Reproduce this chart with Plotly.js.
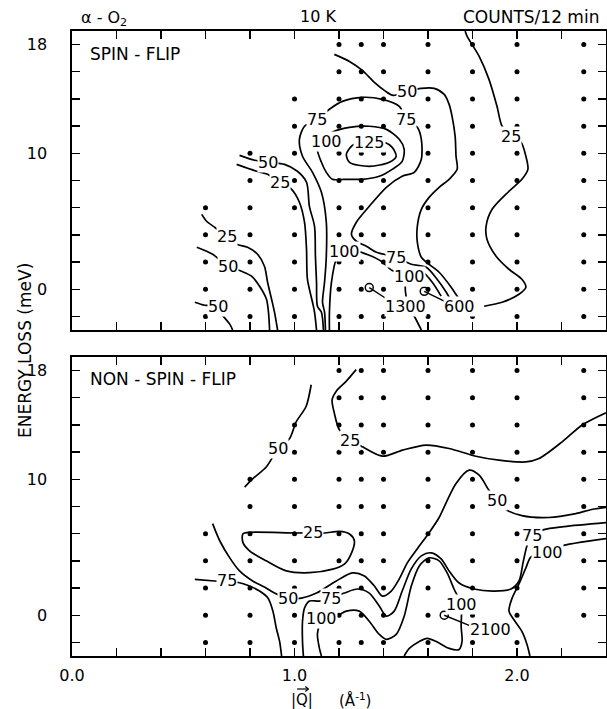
<!DOCTYPE html>
<html><head><meta charset="utf-8">
<script src="https://cdn.plot.ly/plotly-3.0.1.min.js"></script>
<style>html,body{margin:0;padding:0;background:#fff}#chart{width:607px;height:709px}</style>
</head><body><div id="chart"></div>
<script>
// ---- measurement grid (dots) ----
const ROW_E    = [18, 16, 14, 12, 10, 8, 6, 4, 2, 0, -2];
const ROW_QMIN = [1.2, 1.2, 1.0, 1.0, 0.8, 0.8, 0.6, 0.6, 0.6, 0.6, 0.6];
const Q_COLUMNS = [0.6, 0.8, 1.0, 1.2, 1.3, 1.4, 1.6, 1.8, 2.0, 2.3];

// ---- SPIN-FLIP contours (Q in 1/A, E in meV) ----
const sf125_q = [1.260,1.291,1.345,1.404,1.439,1.457,1.426,1.336,1.247,1.233,1.260];
const sf125_e = [10.59,10.81,10.88,10.81,10.44,9.78,9.34,9.04,9.34,9.93,10.59];
const sf100_q = [1.103,1.121,1.143,1.170,1.224,1.305,1.381,1.439,1.484,1.493,1.471,1.413,1.336,1.247,1.179,1.121,1.103];
const sf100_e = [10.29,9.34,8.60,8.09,8.09,8.09,8.31,8.82,9.41,10.29,11.03,11.76,11.99,11.91,11.62,11.03,10.29];
const sf75_q = [1.139,1.135,1.126,1.135,1.143,1.143,1.121,1.081,1.036,1.022,1.045,1.103,1.157,1.215,1.305,1.395,1.471,1.502,1.552,1.570,1.570,1.538,1.484,1.413,1.336,1.278,1.256,1.278,1.323,1.368,1.457,1.525,1.592,1.641,1.682,1.695];
const sf75_e = [-3.0,-1.69,-0.96,0.51,2.43,4.93,7.13,8.60,9.78,11.03,11.99,12.50,13.24,13.82,14.12,13.97,13.46,12.50,11.91,11.03,9.56,8.60,8.31,7.50,6.10,4.93,4.04,3.53,3.16,2.72,2.35,1.84,1.62,0.74,-0.22,-0.59];
const sf50r_q = [1.179,1.247,1.305,1.359,1.404,1.444,1.507,1.570,1.628,1.673,1.695,1.709,1.722,1.726,1.731,1.695,1.650,1.605,1.570,1.552,1.552,1.570,1.592,1.650,1.704,1.740];
const sf50r_e = [17.28,16.76,16.10,15.22,14.63,14.26,14.56,14.78,14.78,14.34,13.60,12.65,11.25,9.78,8.82,8.09,7.50,6.76,5.88,4.63,3.46,2.35,1.99,1.25,0.15,-0.74];
const sf25r_q = [1.767,1.776,1.830,1.874,1.910,1.933,1.973,2.018,2.040,2.049,2.022,1.964,1.888,1.861,1.865,1.906,1.964,2.022,2.040,2.009,1.933,1.852];
const sf25r_e = [19.0,18.60,17.13,15.44,13.46,11.99,11.25,10.81,9.78,8.82,8.09,7.21,5.88,4.63,3.68,2.43,1.47,0.74,0.15,-0.37,-0.96,-1.25];
const sf25u_q = [0.740,0.830,0.879,0.933,0.987,1.022,1.045,1.054,1.058,1.081,1.090,1.099];
const sf25u_e = [9.19,8.68,8.46,7.87,7.35,6.40,4.93,2.94,0.74,-0.96,-1.69,-3.0];
const sf50u_q = [0.753,0.821,0.883,0.955,1.013,1.054,1.067,1.090,1.094,1.099,1.103,1.121,1.130];
const sf50u_e = [9.85,9.49,9.34,9.19,8.68,7.87,6.10,4.63,2.43,0.51,-1.25,-1.69,-3.0];
const sf25l_q = [0.583,0.605,0.641,0.695,0.740,0.789,0.834,0.865,0.879,0.897,0.910,0.924];
const sf25l_e = [5.51,5.0,4.56,3.90,3.31,3.09,2.57,1.69,0.51,-0.74,-1.69,-3.0];
const sf50l_q = [0.561,0.632,0.700,0.762,0.807,0.843,0.874,0.883,0.888];
const sf50l_e = [3.09,2.57,1.69,1.32,0.96,0.22,-0.74,-1.69,-3.0];
const sf50b_q = [0.552,0.596,0.655,0.673,0.709,0.722];
const sf50b_e = [-0.96,-1.18,-1.25,-1.84,-2.57,-3.0];
const sf100b_q = [1.157,1.157,1.166,1.188,1.224,1.283,1.336,1.390,1.437,1.516,1.498,1.512,1.541,1.570];
const sf100b_e = [-3.0,-1.69,0.51,2.20,2.79,2.79,2.50,2.06,1.40,0.96,0.22,-1.25,-2.06,-3.0];
const sf100c_q = [1.516,1.575,1.619,1.659];
const sf100c_e = [0.96,1.25,0.51,-0.51];
const sfPeak_q = [1.336, 1.583];
const sfPeak_e = [0.12, -0.15];
const sfLead1_q = [1.336,1.417]; const sfLead1_e = [0.12,-0.74];
const sfLead2_q = [1.583,1.673]; const sfLead2_e = [-0.15,-0.88];
const sfLab_t = ['125','100','75','75','50','25','50','25','25','50','50','100','75','100','1300','600'];
const sfLab_q = [1.336,1.143,1.103,1.502,1.507,1.973,0.883,0.933,0.695,0.700,0.655,1.224,1.457,1.516,1.498,1.740];
const sfLab_e = [10.8,10.88,12.5,12.5,14.56,11.25,9.34,7.87,3.90,1.69,-1.25,2.79,2.35,0.96,-1.25,-1.25];

// ---- NON-SPIN-FLIP contours ----
const nsf50t_q = [1.075,1.052,1.008,0.978,0.928,0.873,0.813,0.776];
const nsf50t_e = [16.96,15.36,14.24,13.01,12.30,10.91,10.05,9.43];
const nsf25t_q = [1.277,1.232,1.187,1.169,1.179,1.202,1.251,1.306,1.396,1.486,1.591,1.695,1.815,1.919,2.039,2.099,2.203,2.293,2.40];
const nsf25t_e = [18.07,17.21,16.47,15.85,14.87,13.63,12.89,12.39,11.70,12.15,12.52,12.27,11.70,11.41,11.28,11.53,12.76,14.0,14.9];
const nsf25o_q = [0.768,0.798,1.008,1.081,1.135,1.202,1.247,1.269,1.254,1.224,1.172,1.067,0.963,0.873,0.798,0.768,0.768];
const nsf25o_e = [5.98,6.10,6.05,6.07,6.05,6.17,5.98,5.48,4.50,3.76,3.39,3.13,3.26,4.0,4.74,5.36,5.98];
const nsf75l_q = [0.552,0.641,0.753,0.798,0.843,0.880,0.903,0.918,0.933,0.942];
const nsf75l_e = [2.64,2.52,2.39,2.15,1.78,1.28,0.30,-0.94,-1.93,-3.0];
const nsf50m_q = [0.632,0.664,0.709,0.753,0.812,0.865,0.910,0.969,1.031,1.099,1.188,1.260,1.314,1.359,1.395,1.435,1.471,1.507,1.552,1.605,1.650,1.686,1.726,1.785,1.830,1.874,1.910,1.942,2.022,2.143,2.265,2.336,2.40];
const nsf50m_e = [6.74,5.48,4.22,3.26,2.52,2.07,1.63,1.26,1.26,1.63,2.52,3.11,2.89,2.15,1.41,1.78,2.67,3.85,4.89,6.07,7.19,8.44,9.70,10.67,10.30,9.19,8.44,7.85,7.33,7.19,7.48,7.78,7.93];
const nsf75m_q = [1.040,1.036,1.036,1.045,1.067,1.112,1.166,1.224,1.283,1.336,1.381,1.413,1.448,1.484,1.525,1.570,1.614,1.659,1.695,1.740,1.807,1.897,1.973,2.009,2.027,2.045,2.067,2.121,2.211,2.40];
const nsf75m_e = [-3.0,-1.93,-0.44,0.52,1.04,1.04,1.26,1.63,1.93,1.63,0.67,-0.07,0.30,1.78,3.41,4.37,4.59,4.15,3.26,2.37,1.93,1.78,1.93,2.52,3.85,5.11,5.85,6.30,6.52,6.81];
const nsf100m_q = [1.121,1.112,1.103,1.112,1.121,1.188,1.233,1.291,1.336,1.381,1.413,1.457,1.493,1.525,1.561,1.605,1.650,1.686,1.717,1.749,1.749,1.753,1.740,1.695,1.637,1.596,1.561,1.516,1.493];
const nsf100m_e = [-3.0,-2.44,-1.41,-0.67,-0.22,-0.07,0.30,0.30,-0.44,-1.41,-1.78,-1.41,-0.07,2.15,3.63,4.22,4.0,3.11,1.93,0.81,-0.81,-1.93,-2.52,-2.44,-1.93,-1.70,-1.93,-2.44,-3.0];
const nsf100r_q = [2.40,2.188,2.135,2.063,2.040,2.009,1.978,1.964,1.991,2.022,2.045,2.058];
const nsf100r_e = [5.63,5.04,4.59,4.30,3.48,2.30,1.26,0.30,-0.44,-1.19,-2.15,-3.0];
const nsfPeak_q = [1.673]; const nsfPeak_e = [0.0];
const nsfLead_q = [1.673,1.785]; const nsfLead_e = [0.0,-0.74];
const nsfLab_t = ['50','25','25','75','50','75','100','50','75','100','100','2100'];
const nsfLab_q = [0.928,1.251,1.081,0.695,0.969,1.166,1.121,1.910,2.067,2.135,1.749,1.879];
const nsfLab_e = [12.30,12.89,6.07,2.52,1.26,1.26,-0.22,8.44,5.85,4.59,0.81,-1.04];

// ---- axis ticks ----
const X_MAJOR = [0, 1, 2];
const X_LABELS = ['0.0','1.0','2.0'];
const X_MINOR = [0.2,0.4,0.6,0.8,1.2,1.4,1.6,1.8,2.2];
const Y_MAJOR = [0, 10, 18];
const Y_LABELS = ['0','10','18'];
const Y_MINOR = [-2,2,4,6,8,12,14,16];

// ---------------------------------------------------------------
const FONT = 'DejaVu Sans, Liberation Sans, Arial, sans-serif';
const LINE = {color:'#000', width:1.7, shape:'spline', smoothing:0.8};
const traces = [];
function dots(xa, ya, skip) {
  const qs=[], es=[];
  ROW_E.forEach((e,i)=>{ Q_COLUMNS.forEach(q=>{ if (q>=ROW_QMIN[i]-1e-9 && !(skip && skip(q,e))) {qs.push(q); es.push(e);} }); });
  traces.push({x:qs,y:es,xaxis:xa,yaxis:ya,mode:'markers',type:'scatter',marker:{color:'#000',size:5},hoverinfo:'skip'});
}
function line(q,e,xa,ya){ traces.push({x:q,y:e,xaxis:xa,yaxis:ya,mode:'lines',type:'scatter',line:LINE,hoverinfo:'skip'}); }
function straight(q,e,xa,ya){ traces.push({x:q,y:e,xaxis:xa,yaxis:ya,mode:'lines',type:'scatter',line:{color:'#000',width:1.4},hoverinfo:'skip'}); }
function rings(q,e,xa,ya){ traces.push({x:q,y:e,xaxis:xa,yaxis:ya,mode:'markers',type:'scatter',marker:{symbol:'circle-open',color:'#000',size:8,line:{width:1.5}},hoverinfo:'skip'}); }

// top panel (spin-flip): x2/y2
dots('x2','y2');
[[sf125_q,sf125_e],[sf100_q,sf100_e],[sf75_q,sf75_e],[sf50r_q,sf50r_e],[sf25r_q,sf25r_e],[sf25u_q,sf25u_e],[sf50u_q,sf50u_e],[sf25l_q,sf25l_e],[sf50l_q,sf50l_e],[sf50b_q,sf50b_e],[sf100b_q,sf100b_e],[sf100c_q,sf100c_e]].forEach(c=>line(c[0],c[1],'x2','y2'));
straight(sfLead1_q,sfLead1_e,'x2','y2'); straight(sfLead2_q,sfLead2_e,'x2','y2');
rings(sfPeak_q,sfPeak_e,'x2','y2');
// bottom panel (non-spin-flip): x/y
dots('x','y',(q,e)=>q===2.3&&e===-2);
[[nsf50t_q,nsf50t_e],[nsf25t_q,nsf25t_e],[nsf25o_q,nsf25o_e],[nsf75l_q,nsf75l_e],[nsf50m_q,nsf50m_e],[nsf75m_q,nsf75m_e],[nsf100m_q,nsf100m_e],[nsf100r_q,nsf100r_e]].forEach(c=>line(c[0],c[1],'x','y'));
straight(nsfLead_q,nsfLead_e,'x','y');
rings(nsfPeak_q,nsfPeak_e,'x','y');

const ann = [];
function labels(t,q,e,xr,yr){ t.forEach((s,i)=>ann.push({text:s,x:q[i],y:e[i],xref:xr,yref:yr,showarrow:false,bgcolor:'#fff',borderpad:0,font:{family:FONT,size:16,color:'#000'}})); }
labels(sfLab_t,sfLab_q,sfLab_e,'x2','y2');
labels(nsfLab_t,nsfLab_q,nsfLab_e,'x','y');
const paperText = (t,x,y,xa,size,extra)=>Object.assign({text:t,x:x,y:y,xref:'paper',yref:'paper',xanchor:xa,yanchor:'middle',showarrow:false,font:{family:FONT,size:size||16,color:'#000'}},extra||{});
ann.push(paperText('α - O<sub>2</sub>',0.013,1.02,'left',16));
ann.push(paperText('10 K',0.46,1.023,'center',16));
ann.push(paperText('COUNTS/12 min',0.99,1.023,'right',17));
ann.push(paperText('SPIN - FLIP',0.03,0.963,'left',17));
ann.push(paperText('NON - SPIN - FLIP',0.03,0.443,'left',17));
ann.push(paperText('ENERGY LOSS (meV)',-0.088,0.488,'center',17,{textangle:-90}));
ann.push(paperText('|Q|',0.43,-0.0705,'center',15));
ann.push(paperText('(Å<sup>-1</sup>)',0.53,-0.0705,'center',15));

// small vector arrow over Q (decoration)
const shapes = [
  {type:'line',xref:'paper',yref:'paper',x0:0.4215,x1:0.4425,y0:-0.0528,y1:-0.0528,line:{color:'#000',width:1.2}},
  {type:'path',xref:'paper',yref:'paper',path:'M 0.4370 -0.0488 L 0.4425 -0.0528 L 0.4370 -0.0568',line:{color:'#000',width:1.2}}
];

const tickStyle = {ticks:'inside',ticklen:8,tickcolor:'#000',tickwidth:1.3};
const xBase = Object.assign({range:[0,2.4],tickmode:'array',tickvals:X_MAJOR,ticktext:X_LABELS,minor:Object.assign({tickmode:'array',tickvals:X_MINOR,showgrid:false},tickStyle),showline:true,linecolor:'#000',linewidth:1.6,mirror:'ticks',showgrid:false,zeroline:false,tickfont:{family:FONT,size:16,color:'#000'},fixedrange:true},tickStyle);
const yBase = Object.assign({range:[-3,19],tickmode:'array',tickvals:Y_MAJOR,ticktext:Y_LABELS,minor:Object.assign({tickmode:'array',tickvals:Y_MINOR,showgrid:false},tickStyle),showline:true,linecolor:'#000',linewidth:1.6,mirror:'ticks',showgrid:false,zeroline:false,tickfont:{family:FONT,size:16,color:'#000'},ticklabelstandoff:20,fixedrange:true},tickStyle);
const layout = {
  width:607,height:709,margin:{l:72,r:1,t:31,b:53},paper_bgcolor:'#fff',plot_bgcolor:'#fff',showlegend:false,
  xaxis:Object.assign({},xBase,{anchor:'y',ticklabelstandoff:4}),
  yaxis:Object.assign({},yBase,{domain:[0,0.4784],anchor:'x'}),
  xaxis2:Object.assign({},xBase,{anchor:'y2',showticklabels:false}),
  yaxis2:Object.assign({},yBase,{domain:[0.5216,1],anchor:'x2'}),
  annotations:ann, shapes:shapes
};
Plotly.newPlot('chart',traces,layout,{staticPlot:true,displayModeBar:false});
</script></body></html>
